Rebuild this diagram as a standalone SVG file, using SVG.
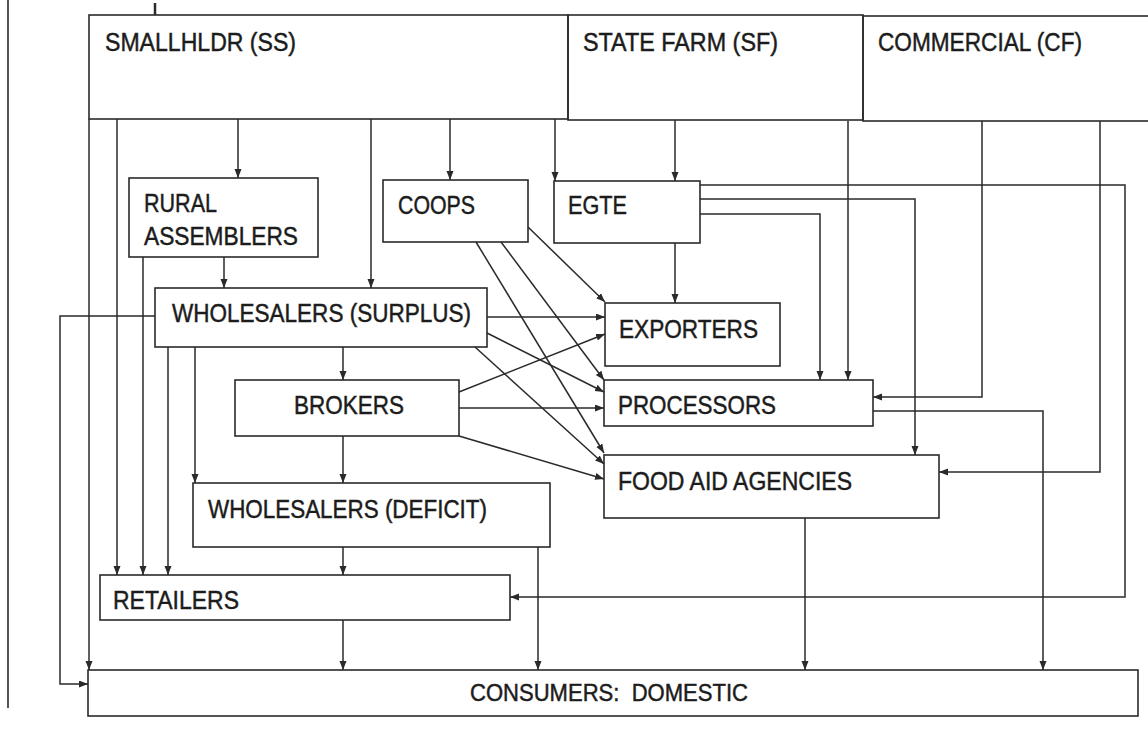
<svg xmlns="http://www.w3.org/2000/svg" width="1148" height="743" viewBox="0 0 1148 743">
<style>
.box{fill:none;stroke:#2a2a2a;stroke-width:1.6}
.lbl{font-family:"Liberation Sans",Arial,sans-serif;font-size:25px;fill:#1c1c1c;stroke:#1c1c1c;stroke-width:0.45}
.con{fill:none;stroke:#2a2a2a;stroke-width:1.5}
.arr{marker-end:url(#ah)}
</style>
<defs>
<marker id="ah" markerUnits="userSpaceOnUse" markerWidth="10" markerHeight="8" refX="9" refY="3.5" orient="auto">
<path d="M0,0 L9,3.5 L0,7 z" fill="#2a2a2a"/>
</marker>
</defs>
<rect width="1148" height="743" fill="#fff"/>
<line x1="8" y1="0" x2="8" y2="708" stroke="#2a2a2a" stroke-width="1.6"/>
<line x1="155" y1="3" x2="155" y2="15" stroke="#2a2a2a" stroke-width="2.5"/>

<g id="smallholder"><rect class="box" x="89" y="15" width="479" height="104"/><text class="lbl" x="105" y="51" textLength="191" lengthAdjust="spacingAndGlyphs">SMALLHLDR (SS)</text></g>
<g id="statefarm"><rect class="box" x="568" y="15" width="295" height="105"/><text class="lbl" x="583" y="51" textLength="195" lengthAdjust="spacingAndGlyphs">STATE FARM (SF)</text></g>
<g id="commercial"><rect class="box" x="863" y="16" width="290" height="105"/><text class="lbl" x="878" y="51" textLength="204" lengthAdjust="spacingAndGlyphs">COMMERCIAL (CF)</text></g>

<g id="rural"><rect class="box" x="129" y="178" width="189" height="79"/><text class="lbl" x="144" y="212" textLength="73" lengthAdjust="spacingAndGlyphs">RURAL</text><text class="lbl" x="144" y="245" textLength="154" lengthAdjust="spacingAndGlyphs">ASSEMBLERS</text></g>
<g id="coops"><rect class="box" x="383" y="180" width="145" height="62"/><text class="lbl" x="398" y="214" textLength="77" lengthAdjust="spacingAndGlyphs">COOPS</text></g>
<g id="egte"><rect class="box" x="554" y="181" width="146" height="62"/><text class="lbl" x="568" y="214" textLength="59" lengthAdjust="spacingAndGlyphs">EGTE</text></g>
<g id="ws_surplus"><rect class="box" x="155" y="288" width="332" height="59"/><text class="lbl" x="172" y="322" textLength="299" lengthAdjust="spacingAndGlyphs">WHOLESALERS (SURPLUS)</text></g>
<g id="exporters"><rect class="box" x="605" y="303" width="175" height="63"/><text class="lbl" x="619" y="338" textLength="139" lengthAdjust="spacingAndGlyphs">EXPORTERS</text></g>
<g id="brokers"><rect class="box" x="235" y="380" width="224" height="56"/><text class="lbl" x="294" y="414" textLength="110" lengthAdjust="spacingAndGlyphs">BROKERS</text></g>
<g id="processors"><rect class="box" x="604" y="380" width="269" height="46"/><text class="lbl" x="618" y="414" textLength="158" lengthAdjust="spacingAndGlyphs">PROCESSORS</text></g>
<g id="foodaid"><rect class="box" x="604" y="455" width="335" height="63"/><text class="lbl" x="618" y="490" textLength="234" lengthAdjust="spacingAndGlyphs">FOOD AID AGENCIES</text></g>
<g id="ws_deficit"><rect class="box" x="193" y="483" width="357" height="64"/><text class="lbl" x="208" y="518" textLength="279" lengthAdjust="spacingAndGlyphs">WHOLESALERS (DEFICIT)</text></g>
<g id="retailers"><rect class="box" x="100" y="575" width="410" height="45"/><text class="lbl" x="113" y="609" textLength="126" lengthAdjust="spacingAndGlyphs">RETAILERS</text></g>
<g id="consumers"><rect class="box" x="88" y="670" width="1050" height="46"/><text class="lbl" x="470" y="701" style="font-size:23px;white-space:pre" textLength="278" lengthAdjust="spacingAndGlyphs">CONSUMERS:  DOMESTIC</text></g>

<g id="connectors">
<path class="con arr" d="M89,119 V670"/>
<path class="con arr" d="M117,119 V575"/>
<path class="con arr" d="M238,119 V178"/>
<path class="con arr" d="M371,119 V288"/>
<path class="con arr" d="M450,119 V180"/>
<path class="con arr" d="M555,119 V181"/>
<path class="con arr" d="M675,120 V181"/>
<path class="con arr" d="M848,121 V380"/>
<path class="con arr" d="M982,121 V397 H873"/>
<path class="con arr" d="M1100,121 V472 H939"/>
<path class="con arr" d="M675,243 V303"/>
<path class="con arr" d="M700,185 H1125 V597 H510"/>
<path class="con arr" d="M700,199 H915 V455"/>
<path class="con arr" d="M700,214 H820 V380"/>
<path class="con arr" d="M224,257 V288"/>
<path class="con arr" d="M143,257 V575"/>
<path class="con arr" d="M528,227 L605,302"/>
<path class="con arr" d="M501,242 L604,380"/>
<path class="con arr" d="M476,242 L604,453"/>
<path class="con arr" d="M487,317 H605"/>
<path class="con arr" d="M487,333 L604,392"/>
<path class="con arr" d="M475,347 L604,464"/>
<path class="con arr" d="M155,316 H60 V684 H88"/>
<path class="con arr" d="M168,347 V575"/>
<path class="con arr" d="M195,347 V483"/>
<path class="con arr" d="M343,347 V380"/>
<path class="con arr" d="M459,392 L605,334"/>
<path class="con arr" d="M459,408 H604"/>
<path class="con arr" d="M459,436 L604,479"/>
<path class="con arr" d="M343,436 V483"/>
<path class="con arr" d="M343,547 V575"/>
<path class="con arr" d="M538,547 V670"/>
<path class="con arr" d="M343,620 V670"/>
<path class="con arr" d="M873,411 H1043 V670"/>
<path class="con arr" d="M805,518 V670"/>
</g>
</svg>
